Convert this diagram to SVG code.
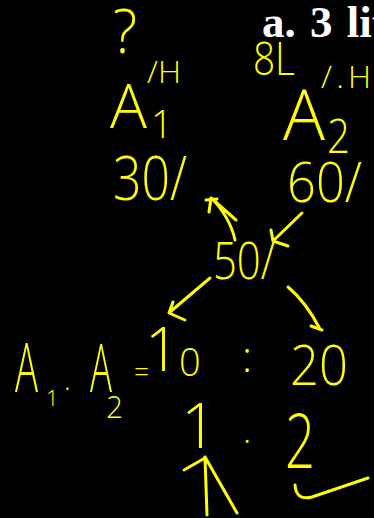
<svg xmlns="http://www.w3.org/2000/svg" width="374" height="518" viewBox="0 0 374 518">
<style>
.hw{fill:#ffff00;font-family:"Open Sans","Liberation Sans",sans-serif;font-weight:300}
.c{stroke:#ffff00;stroke-width:3;fill:none;stroke-linecap:round;stroke-linejoin:round}
.title{fill:#ffffff;font-family:"Liberation Serif",serif;font-weight:bold}
</style>
<rect x="0" y="0" width="374" height="518" fill="#000000"/>
<text class="title" x="262" y="37" font-size="45" word-spacing="3">a. 3 lit</text>
<g id="q"><text class="hw" x="113" y="53" font-size="60" textLength="24" lengthAdjust="spacingAndGlyphs">?</text></g>
<g id="a1">
<text class="hw" x="147" y="83" font-size="32">/H</text>
<text class="hw" x="110" y="128" font-size="60" textLength="37" lengthAdjust="spacingAndGlyphs">A</text>
<text class="hw" x="151" y="138" font-size="38">1</text>
</g>
<g id="a2">
<text class="hw" x="253" y="75" font-size="46" textLength="42" lengthAdjust="spacingAndGlyphs">8L</text>
<text class="hw" x="321" y="88" font-size="32" textLength="50" lengthAdjust="spacing">/.H</text>
<text class="hw" x="283" y="140" font-size="70" textLength="42" lengthAdjust="spacingAndGlyphs">A</text>
<text class="hw" x="327" y="153" font-size="48" textLength="23" lengthAdjust="spacingAndGlyphs">2</text>
</g>
<g id="p30"><text class="hw" x="113" y="200" font-size="60" textLength="74" lengthAdjust="spacingAndGlyphs">30/</text></g>
<g id="p60"><text class="hw" x="287" y="202" font-size="56" textLength="75" lengthAdjust="spacingAndGlyphs">60/</text></g>
<g id="p50"><text class="hw" x="213" y="279" font-size="52" textLength="62" lengthAdjust="spacingAndGlyphs">50/</text></g>
<g id="ratio1">
<text class="hw" x="15" y="392" font-size="68" textLength="23" lengthAdjust="spacingAndGlyphs">A</text>
<text class="hw" x="46" y="406" font-size="22">1</text>
<text class="hw" x="64" y="390" font-size="28">.</text>
<text class="hw" x="90" y="392" font-size="66" textLength="22" lengthAdjust="spacingAndGlyphs">A</text>
<text class="hw" x="106" y="418" font-size="32" textLength="17" lengthAdjust="spacingAndGlyphs">2</text>
<text class="hw" x="134" y="382" font-size="30" textLength="15" lengthAdjust="spacingAndGlyphs">=</text>
<text class="hw" x="145" y="371" font-size="60">1</text>
<text class="hw" x="179" y="376" font-size="38">0</text>
<text class="hw" x="247" y="372" font-size="42" text-anchor="middle">:</text>
<text class="hw" x="290" y="385" font-size="56" textLength="58" lengthAdjust="spacingAndGlyphs">20</text>
</g>
<g id="ratio2">
<text class="hw" x="199" y="448" font-size="63" text-anchor="middle">1</text>
<text class="hw" x="247" y="443" font-size="36" text-anchor="middle">.</text>
<text class="hw" x="285" y="468" font-size="76" textLength="30" lengthAdjust="spacingAndGlyphs">2</text>
</g>
<g id="connectors">
<path class="c" d="M235,240 C232,225 222,208 211,198 M211,198 L236,220 M211,198 L209,212 M206,200 L217,199"/>
<path class="c" d="M302,213 L273,241 M271,230 L273,241 L288,246"/>
<path class="c" d="M210,278 L170,312 M173,302 L169,313 L185,320"/>
<path class="c" d="M288,287 Q306,302 320,329 M311,326 L322,330"/>
<path class="c" d="M205,457 L207,515 M205,457 L237,513"/>
<path class="c" stroke-width="5" d="M184,470 L205,458"/>
<path class="c" d="M295,485 Q296,501 312,497 L368,478"/>
</g>
</svg>
